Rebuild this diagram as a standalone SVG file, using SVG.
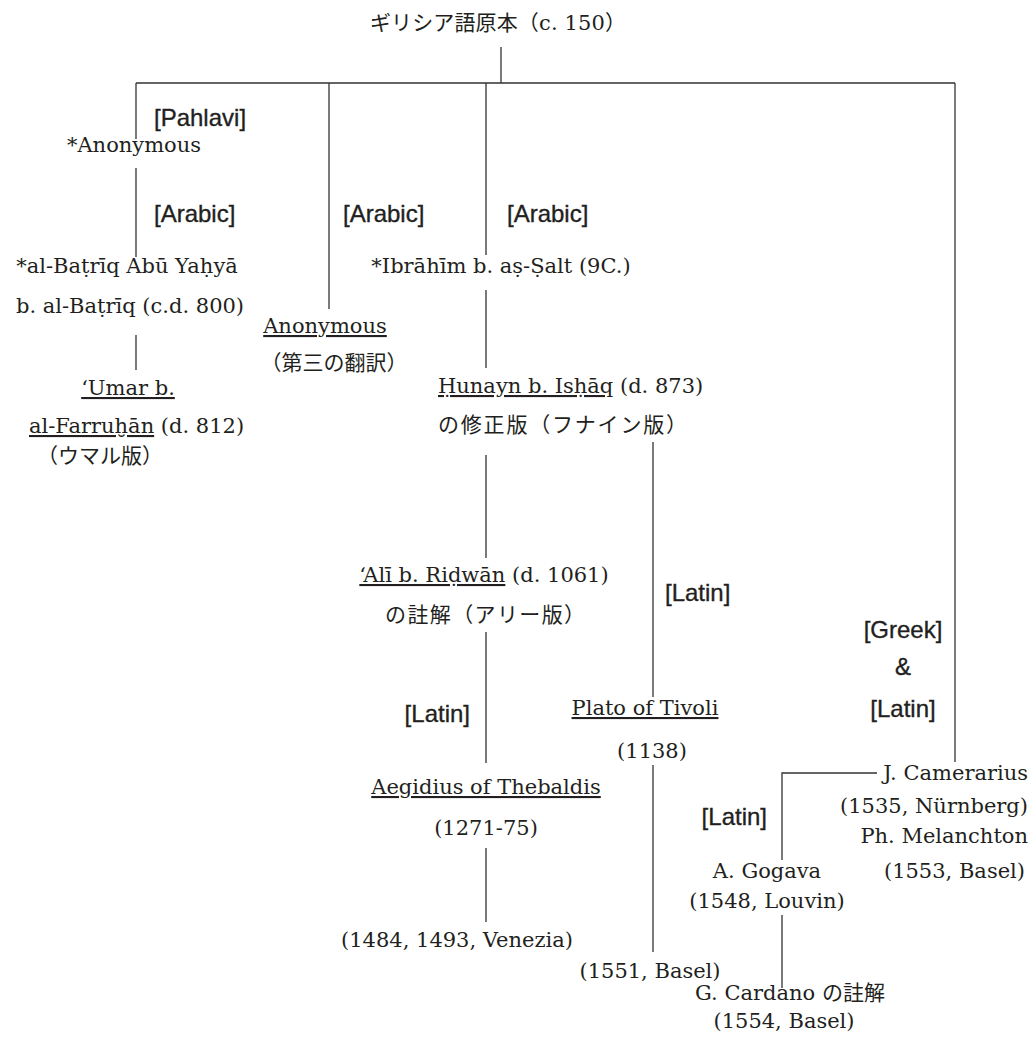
<svg xmlns="http://www.w3.org/2000/svg" width="1033" height="1043" viewBox="0 0 1033 1043">
<style>
.t{font-family:"DejaVu Serif","Noto Sans CJK JP",serif;font-size:21px;fill:#231f20}
.j{font-family:"Noto Sans CJK JP",sans-serif;font-weight:400}
.l{font-family:"Liberation Sans",Arial,sans-serif;font-size:24px;fill:#231f20;stroke:#231f20;stroke-width:0.35}
.m{text-anchor:middle}
.e{text-anchor:end}
.u{text-decoration:underline}
.c{fill:none;stroke:#333;stroke-width:1.3}
</style>
<rect width="1033" height="1043" fill="#fff"/>
<g id="connectors" class="c">
<path d="M501,47V83M136,83H955"/>
<path d="M136,83V139M136,168V257M136,335V370"/>
<path d="M329,83V309"/>
<path d="M486,83V255M486,290V368M486,455V558M486,632V763M486,848V922"/>
<path d="M653,442V697M653,765V952"/>
<path d="M955,83V762"/>
<path d="M877,773H782V860M782,915V988"/>
</g>
<g id="n-greek"><text class="t" x="370" y="30" textLength="256" lengthAdjust="spacing"><tspan class="j">ギリシア語原本（</tspan>c. 150<tspan class="j">）</tspan></text></g>
<g id="lbl-pahlavi"><text class="l" x="154" y="126">[Pahlavi]</text></g>
<g id="n-anon1"><text class="t m" x="134" y="152">*Anonymous</text></g>
<g id="lbl-arabic1"><text class="l" x="154" y="222">[Arabic]</text></g>
<g id="lbl-arabic2"><text class="l" x="343" y="222">[Arabic]</text></g>
<g id="lbl-arabic3"><text class="l" x="507" y="222">[Arabic]</text></g>
<g id="n-batriq">
<text class="t m" x="127" y="273">*al-Baṭrīq Abū Yaḥyā</text>
<text class="t m" x="130" y="313">b. al-Baṭrīq (c.d. 800)</text>
</g>
<g id="n-umar">
<text class="t m" x="128" y="395"><tspan class="u">‘Umar b.</tspan></text>
<text class="t" x="29" y="433"><tspan class="u">al-Farruḫān</tspan> (d. 812)</text>
<text class="t m" x="100" y="463"><tspan class="j">（ウマル版）</tspan></text>
</g>
<g id="n-anon3">
<text class="t m" x="325" y="333"><tspan class="u">Anonymous</tspan></text>
<text class="t m" x="334" y="370"><tspan class="j">（第三の翻訳）</tspan></text>
</g>
<g id="n-ibrahim"><text class="t m" x="501" y="273">*Ibrāhīm b. aṣ-Ṣalt (9C.)</text></g>
<g id="n-hunayn">
<text class="t" x="438" y="393"><tspan class="u">Ḥunayn b. Isḥāq</tspan> (d. 873)</text>
<text class="t" x="438" y="432" textLength="249" lengthAdjust="spacing"><tspan class="j">の修正版（フナイン版）</tspan></text>
</g>
<g id="n-ali">
<text class="t m" x="484" y="582"><tspan class="u">‘Alī b. Riḍwān</tspan> (d. 1061)</text>
<text class="t" x="385" y="622" textLength="200" lengthAdjust="spacing"><tspan class="j">の註解（アリー版）</tspan></text>
</g>
<g id="lbl-latin1"><text class="l e" x="470" y="722">[Latin]</text></g>
<g id="lbl-latin2"><text class="l" x="665" y="601">[Latin]</text></g>
<g id="n-plato">
<text class="t m" x="645" y="715"><tspan class="u">Plato of Tivoli</tspan></text>
<text class="t m" x="652" y="758">(1138)</text>
</g>
<g id="n-aegidius">
<text class="t m" x="486" y="794"><tspan class="u">Aegidius of Thebaldis</tspan></text>
<text class="t m" x="486" y="835">(1271-75)</text>
</g>
<g id="n-venezia"><text class="t m" x="457" y="947">(1484, 1493, Venezia)</text></g>
<g id="n-basel1551"><text class="t m" x="650" y="978">(1551, Basel)</text></g>
<g id="lbl-greeklatin">
<text class="l m" x="903" y="638">[Greek]</text>
<text class="l m" x="903" y="675">&amp;</text>
<text class="l m" x="903" y="717">[Latin]</text>
</g>
<g id="n-camerarius">
<text class="t e" x="1028" y="780">J. Camerarius</text>
<text class="t e" x="1028" y="813">(1535, Nürnberg)</text>
<text class="t e" x="1028" y="843">Ph. Melanchton</text>
<text class="t e" x="1025" y="878">(1553, Basel)</text>
</g>
<g id="lbl-latin3"><text class="l e" x="767" y="825">[Latin]</text></g>
<g id="n-gogava">
<text class="t m" x="767" y="878">A. Gogava</text>
<text class="t m" x="767" y="908">(1548, Louvin)</text>
</g>
<g id="n-cardano">
<text class="t m" x="790" y="1000">G. Cardano <tspan class="j">の註解</tspan></text>
<text class="t m" x="784" y="1028">(1554, Basel)</text>
</g>
</svg>
